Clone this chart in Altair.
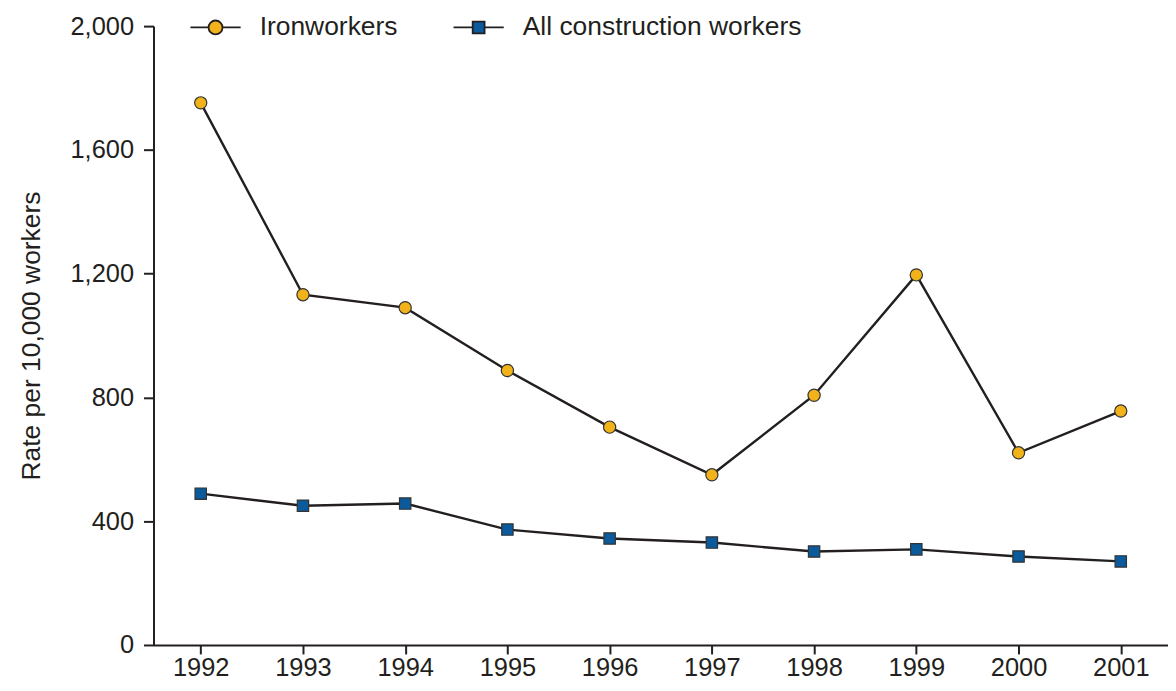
import altair as alt
import pandas as pd

years = [1992, 1993, 1994, 1995, 1996, 1997, 1998, 1999, 2000, 2001]
ironworkers = [1752, 1132, 1090, 887, 704, 550, 807, 1196, 621, 756]
all_construction = [489, 450, 457, 373, 344, 331, 302, 309, 286, 270]
series_names = ["Ironworkers", "All construction workers"]
y_ticks = [0, 400, 800, 1200, 1600, 2000]

TEXT = "#231f20"
GOLD = "#f2b21a"
BLUE = "#0a5a9c"
FONT = "Liberation Sans"

rows = []
for yr, a, b in zip(years, ironworkers, all_construction):
    rows.append({"year": yr, "series": series_names[0], "rate": a})
    rows.append({"year": yr, "series": series_names[1], "rate": b})
df = pd.DataFrame(rows)

x = alt.X("year:O", title=None,
          scale=alt.Scale(type="point", padding=0.462),
          axis=alt.Axis(labelAngle=0, tickSize=9, labelPadding=1.5,
                        domainWidth=2, tickWidth=2, domainColor=TEXT, tickColor=TEXT,
                        labelColor=TEXT, labelFontSize=25.5, labelFont=FONT, grid=False))
y = alt.Y("rate:Q", title="Rate per 10,000 workers",
          scale=alt.Scale(domain=[0, 2000], nice=False, zero=True),
          axis=alt.Axis(values=y_ticks, format=",d", tickSize=10, labelPadding=10,
                        domainWidth=2, tickWidth=2, domainColor=TEXT, tickColor=TEXT,
                        labelColor=TEXT, labelFontSize=25.5, labelFont=FONT,
                        titleFontSize=26.5, titleFont=FONT, titleFontWeight="normal",
                        titleColor=TEXT, titlePadding=25, grid=False))

base = alt.Chart(df)

lines = base.mark_line(color=TEXT, strokeWidth=2.4).encode(x=x, y=y, detail="series:N")

iron_pts = base.transform_filter(alt.datum.series == series_names[0]).mark_point(
    shape="circle", filled=True, fill=GOLD, stroke="#333333", strokeWidth=1.2,
    size=150, opacity=1).encode(x=x, y=y)
cons_pts = base.transform_filter(alt.datum.series == series_names[1]).mark_point(
    shape="square", filled=True, fill=BLUE, stroke="#333333", strokeWidth=1.2,
    size=130, opacity=1).encode(x=x, y=y)

circ_path = "M-3.6,0H-1M1,0H3.6M1,0A1,1 0 1,1 -1,0A1,1 0 1,1 1,0Z"
sq_path = "M-3.6,0H-0.85M0.85,0H3.6M-0.85,-0.85H0.85V0.85H-0.85Z"

legend = alt.Legend(title=None, orient="none", direction="horizontal",
                    legendX=49, legendY=-12, padding=0,
                    symbolSize=196, symbolStrokeColor=TEXT, symbolStrokeWidth=1.8,
                    labelOffset=31, columnPadding=52, labelLimit=600,
                    labelFontSize=26.5, labelFont=FONT, labelColor=TEXT)

legend_layer = base.transform_filter("false").mark_point(
    filled=True, strokeWidth=1.8, opacity=1).encode(
    x=x, y=y,
    shape=alt.Shape("series:N", scale=alt.Scale(domain=series_names, range=[circ_path, sq_path]),
                    legend=legend),
    fill=alt.Fill("series:N", scale=alt.Scale(domain=series_names, range=[GOLD, BLUE]),
                  legend=legend),
    stroke=alt.Stroke("series:N", scale=alt.Scale(domain=series_names, range=[TEXT, TEXT]),
                      legend=legend),
)

chart = alt.layer(lines, iron_pts, cons_pts, legend_layer).properties(
    width=1018, height=621,
    autosize=alt.AutoSizeParams(type="none"),
    padding={"left": 146, "top": 17, "right": 0, "bottom": 37},
).configure(font=FONT).configure_view(stroke=None)

chart.save("out.html", embed_options={"renderer": "svg", "actions": False})
